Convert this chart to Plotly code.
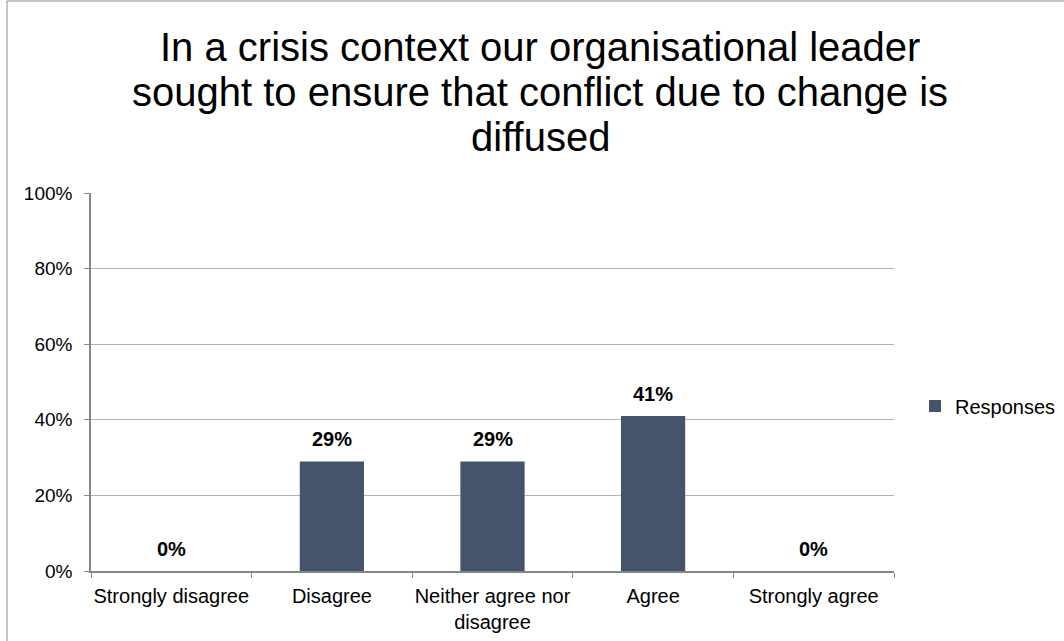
import plotly.graph_objects as go

# Survey responses (share of respondents, %)
categories = ["Strongly disagree", "Disagree", "Neither agree nor<br>disagree", "Agree", "Strongly agree"]
responses = [0, 29, 29, 41, 0]
value_labels = ["0%", "29%", "29%", "41%", "0%"]
y_ticks = [0, 20, 40, 60, 80, 100]
y_tick_labels = ["0%", "20%", "40%", "60%", "80%", "100%"]

title_lines = [
    "In a crisis context our organisational leader",
    "sought to ensure that conflict due to change is",
    "diffused",
]

FONT = "Liberation Sans, Arial, sans-serif"
BAR = "#44546A"

# plot area in pixels
W, H = 1064, 641
L, R, T, B = 91, 170, 193, 70
PW, PH = W - L - R, H - T - B


def px_x(px):
    return (px - L) / PW


def px_y(py):
    return (H - B - py) / PH


fig = go.Figure()
fig.add_trace(go.Bar(
    x=categories,
    y=responses,
    name="Responses",
    marker=dict(color=BAR, line=dict(width=0)),
    width=0.4,
    showlegend=True,
))

# value labels above each bar
for cat, val, lab in zip(categories, responses, value_labels):
    fig.add_annotation(
        x=cat, y=val, text="<b>" + lab + "</b>",
        showarrow=False, yanchor="bottom", yshift=9,
        font=dict(family=FONT, size=20, color="#000000"),
    )

# chart title, one line at a time for tighter line spacing
title_size = 40
line_pitch = 45
for i, line in enumerate(title_lines):
    fig.add_annotation(
        text=line, xref="paper", yref="paper",
        x=px_x(540), y=px_y(47 + i * line_pitch),
        xanchor="center", yanchor="middle",
        showarrow=False,
        font=dict(family=FONT, size=title_size, color="#000000"),
    )

# chart frame
fig.add_shape(
    type="rect", xref="paper", yref="paper",
    x0=px_x(7), x1=1.4, y0=-0.5, y1=px_y(1),
    line=dict(color="#8c8c8c", width=1), layer="below",
)

fig.update_layout(
    width=W, height=H,
    margin=dict(l=L, r=R, t=T, b=B, autoexpand=False),
    paper_bgcolor="white", plot_bgcolor="white",
    font=dict(family=FONT, color="#000000"),
    bargap=0.6,
    legend=dict(
        x=px_x(915), y=px_y(406), xanchor="left", yanchor="middle",
        font=dict(family=FONT, size=20, color="#000000"),
        itemwidth=30, bgcolor="rgba(0,0,0,0)",
    ),
    xaxis=dict(
        type="category",
        showline=True, linecolor="#868686", linewidth=1.5,
        ticks="outside", tickson="boundaries", ticklen=5, tickcolor="#868686",
        tickfont=dict(family=FONT, size=20, color="#000000"),
        tickangle=0, ticklabelstandoff=6,
        showgrid=False, zeroline=False,
    ),
    yaxis=dict(
        range=[0, 100], tickvals=y_ticks, ticktext=y_tick_labels,
        showline=True, linecolor="#868686", linewidth=1.5,
        ticks="outside", ticklen=5, tickcolor="#868686",
        tickfont=dict(family=FONT, size=19, color="#000000"),
        ticklabelstandoff=8,
        showgrid=True, gridcolor="#b3b3b3", gridwidth=1.2,
        zeroline=False,
    ),
)

fig.write_html("out.html")
